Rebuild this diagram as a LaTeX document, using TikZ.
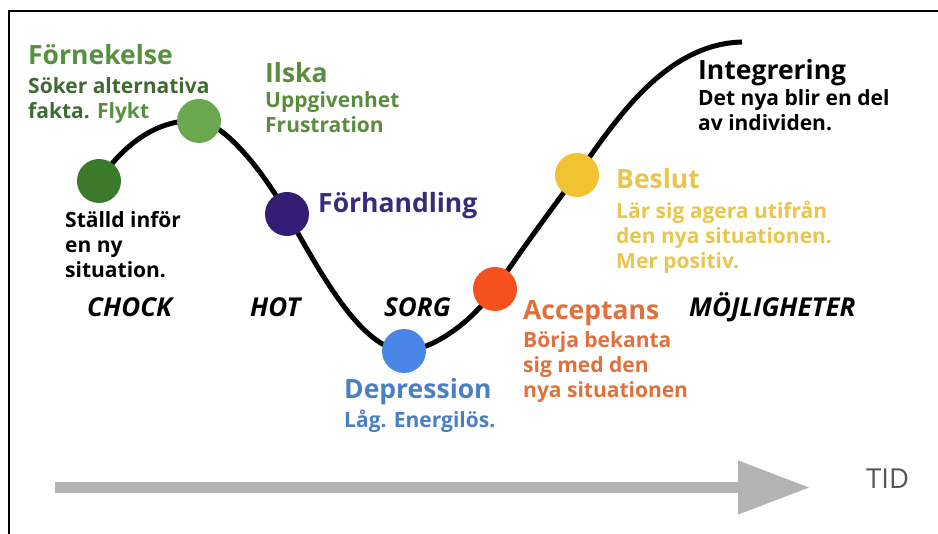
\documentclass[tikz,border=0pt]{standalone}
\usepackage{fontspec}
\setmainfont{Open Sans}
\usetikzlibrary{arrows.meta}

\definecolor{chockgreen}{HTML}{3A7A2A}
\definecolor{lightgreen}{HTML}{6AA84F}
\definecolor{darkpurple}{HTML}{351C75}
\definecolor{deepblue}{HTML}{4A86E8}
\definecolor{redorange}{HTML}{F4511E}
\definecolor{sunyellow}{HTML}{F1C232}
\definecolor{forngreen}{HTML}{55913F}
\definecolor{olivegreen}{HTML}{3E6B2F}
\definecolor{ilskagreen}{HTML}{5A8C3E}
\definecolor{forhpurple}{HTML}{3B2A7C}
\definecolor{deprblue}{HTML}{4A7FC6}
\definecolor{accorange}{HTML}{E0703C}
\definecolor{beslyellow}{HTML}{E8C64E}
\definecolor{axisgray}{HTML}{B3B3B3}
\definecolor{tidgray}{HTML}{555555}

\begin{document}
\begin{tikzpicture}[x=1pt,y=1pt,
    dot/.style={circle,minimum size=44pt,inner sep=0pt},
    title/.style={anchor=base west,inner sep=0pt,font=\fontsize{26.5}{30}\selectfont\bfseries},
    desc/.style={anchor=north west,inner sep=0pt,align=left,font=\fontsize{21}{25}\selectfont\bfseries},
    phase/.style={anchor=base west,inner sep=0pt,font=\fontsize{26}{30}\selectfont\bfseries\itshape}]
    \useasboundingbox (0,0) rectangle (938,534);
    \draw[line width=1.2pt] (9,0) -- (9,523) -- (938,523);

    % time axis
    \coordinate (t0) at (55,46.5);
    \coordinate (t1) at (810,46.5);
    \draw[axisgray,line width=11pt,-{Triangle[length=72pt,width=51pt]}] (t0) -- (t1);
    \node[anchor=base west,inner sep=0pt,text=tidgray,font=\fontsize{27.5}{30}\selectfont] (tid) at (866,45) {TID};

    % curve
    \coordinate (p1) at (99,353);
    \coordinate (p2) at (199,413);
    \coordinate (p3) at (287,320);
    \coordinate (p4) at (404,183);
    \coordinate (p5) at (495,245);
    \coordinate (p6) at (577,359);
    \coordinate (p7) at (742,492);
    \draw[line width=5pt] (p1) .. controls (125,392) and (160,416) .. (p2)
        .. controls (225,411) and (265,360) .. (p3)
        .. controls (318,266) and (360,185) .. (p4)
        .. controls (432,184) and (470,210) .. (p5)
        .. controls (520,282) and (555,330) .. (p6)
        .. controls (615,413) and (665,490) .. (p7);

    \node[dot,fill=chockgreen] (chock) at (p1) {};
    \node[dot,fill=lightgreen] (forn) at (p2) {};
    \node[dot,fill=darkpurple] (forh) at (p3) {};
    \node[dot,fill=deepblue] (depr) at (p4) {};
    \node[dot,fill=redorange] (acc) at (p5) {};
    \node[dot,fill=sunyellow] (besl) at (p6) {};

    % texts
    \node[title,text=forngreen] (forntitle) at (28,469) {Förnekelse};
    \node[desc,text=olivegreen] (forntext) at (28,457) {Söker alternativa\\fakta. {\color{forngreen}Flykt}};
    \node[title,text=ilskagreen] (ilskatitle) at (265,451) {Ilska};
    \node[desc,text=ilskagreen] (ilskatext) at (265,443) {Uppgivenhet\\Frustration};
    \node[desc] (chocktext) at (65,323) {Ställd inför\\en ny\\situation.};
    \node[title,text=forhpurple] (forhtitle) at (318,321) {Förhandling};
    \node[title,text=deprblue] (deprtitle) at (344,135) {Depression};
    \node[desc,text=deprblue] (deprtext) at (344,124) {Låg. Energilös.};
    \node[title,text=accorange] (acctitle) at (523,214) {Acceptans};
    \node[desc,text=accorange] (acctext) at (523,203) {Börja bekanta\\sig med den\\nya situationen};
    \node[title,text=beslyellow] (besltitle) at (616,345) {Beslut};
    \node[desc,text=beslyellow] (besltext) at (616,333) {Lär sig agera utifrån\\den nya situationen.\\Mer positiv.};
    \node[title] (integtitle) at (698,454) {Integrering};
    \node[desc] (integtext) at (698,445) {Det nya blir en del\\av individen.};

    % phases
    \node[phase] (chockphase) at (87,217) {CHOCK};
    \node[phase] (hotphase) at (250,217) {HOT};
    \node[phase] (sorgphase) at (384,217) {SORG};
    \node[phase] (mojphase) at (689,217) {MÖJLIGHETER};
\end{tikzpicture}
\end{document}
